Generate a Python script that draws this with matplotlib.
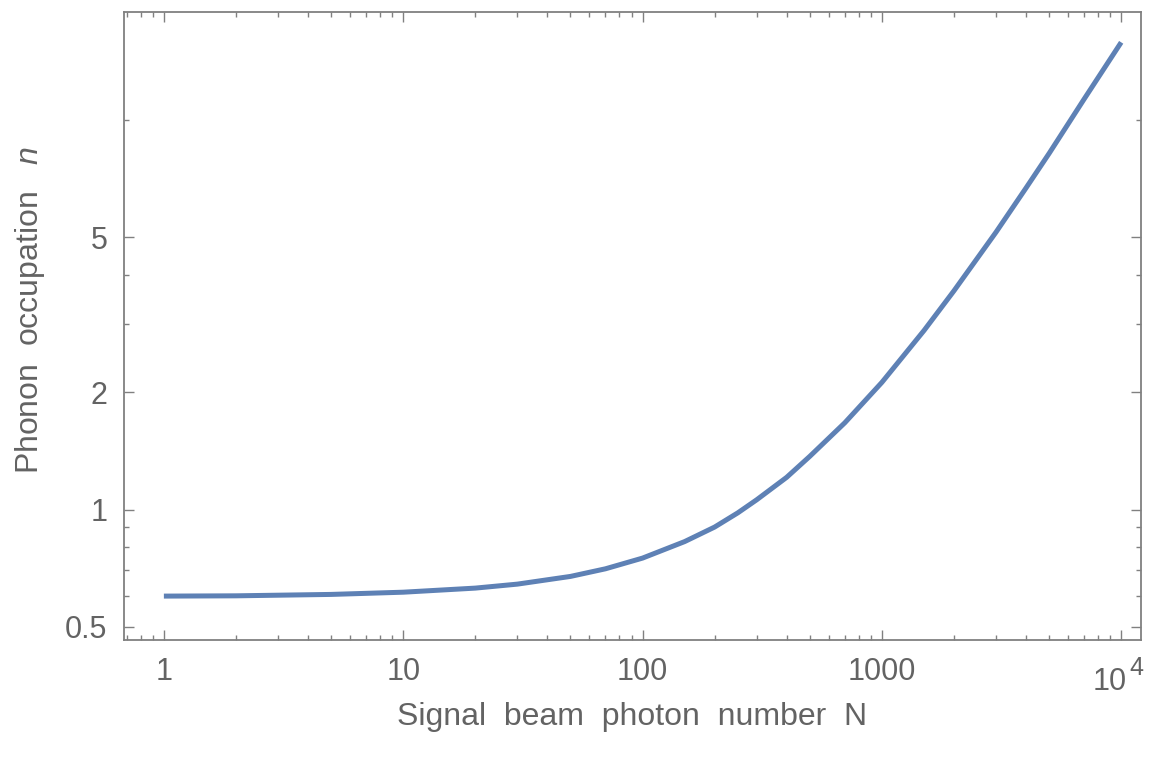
import matplotlib
matplotlib.use("Agg")
import matplotlib.pyplot as plt
from matplotlib.ticker import FixedLocator, NullFormatter
from matplotlib.transforms import blended_transform_factory, offset_copy

# phonon occupation vs. signal photon number (log-log)
photon_number = [1, 2, 5, 10, 20, 30, 50, 70, 100, 150, 200, 250, 300, 400, 500,
                 700, 1000, 1500, 2000, 3000, 4000, 5000, 7000, 10000]
phonon_occ = [0.600, 0.601, 0.606, 0.614, 0.629, 0.644, 0.674, 0.705, 0.751, 0.828,
              0.902, 0.981, 1.06, 1.21, 1.37, 1.67, 2.12, 2.88, 3.64, 5.15, 6.68,
              8.20, 11.3, 15.8]

x_major = [1, 10, 100, 1000, 10000]
x_labels = ["1", "10", "100", "1000", ""]
y_major = [0.5, 1, 2, 5]
y_labels = ["0.5", "1", "2", "5"]
y_minor = [0.6, 0.7, 0.8, 0.9, 3, 4, 10]

LINE = "#5e81b5"
FRAME = "#808080"
TEXT = "#636363"

plt.rcParams["font.family"] = ["Liberation Sans", "DejaVu Sans"]
plt.rcParams["mathtext.fontset"] = "custom"
plt.rcParams["mathtext.rm"] = "Liberation Sans"
plt.rcParams["mathtext.it"] = "Liberation Sans:italic"

fig = plt.figure(figsize=(11.53, 7.59), dpi=100)
ax = fig.add_axes([0.1075, 0.1568, 0.8821, 0.8274])

ax.plot(photon_number, phonon_occ, color=LINE, lw=3.6, solid_capstyle="butt")

ax.set_xscale("log")
ax.set_yscale("log")
ax.set_xlim(0.681, 12100)
ax.set_ylim(0.463, 18.9)

x_minor = [0.7, 0.8, 0.9]
for k in range(4):
    x_minor += [m * 10 ** k for m in range(2, 10)]
ax.xaxis.set_major_locator(FixedLocator(x_major))
ax.xaxis.set_minor_locator(FixedLocator(x_minor))
ax.set_xticklabels(x_labels)
ax.xaxis.set_minor_formatter(NullFormatter())
ax.yaxis.set_major_locator(FixedLocator(y_major))
ax.yaxis.set_minor_locator(FixedLocator(y_minor))
ax.set_yticklabels(y_labels)
ax.yaxis.set_minor_formatter(NullFormatter())

for s in ax.spines.values():
    s.set_color(FRAME)
    s.set_linewidth(1.3)
ax.tick_params(which="both", direction="in", top=True, right=True,
               color=FRAME, labelcolor=TEXT, labelsize=22, width=1.0)
ax.tick_params(which="major", length=7.5)
ax.tick_params(which="minor", length=3.8)
ax.tick_params(axis="x", which="major", pad=12)
ax.tick_params(axis="y", which="major", pad=12)

# 10^4 label drawn by hand so the exponent stays large
tr = blended_transform_factory(ax.transData, ax.transAxes)
ax.text(10000, -0.043, "10", transform=offset_copy(tr, fig=fig, x=6, units="dots"),
        ha="right", va="top", fontsize=22, color=TEXT, clip_on=False)
ax.text(10000, -0.026, "4", transform=offset_copy(tr, fig=fig, x=8, units="dots"),
        ha="left", va="top", fontsize=18, color=TEXT, clip_on=False)

ax.set_xlabel("Signal  beam  photon  number  N", fontsize=23, color=TEXT, labelpad=11)
ax.set_ylabel(r"Phonon  occupation   $n$", fontsize=23, color=TEXT)
ax.yaxis.set_label_coords(-0.076, 0.525)

fig.savefig("out.png", dpi=100)
